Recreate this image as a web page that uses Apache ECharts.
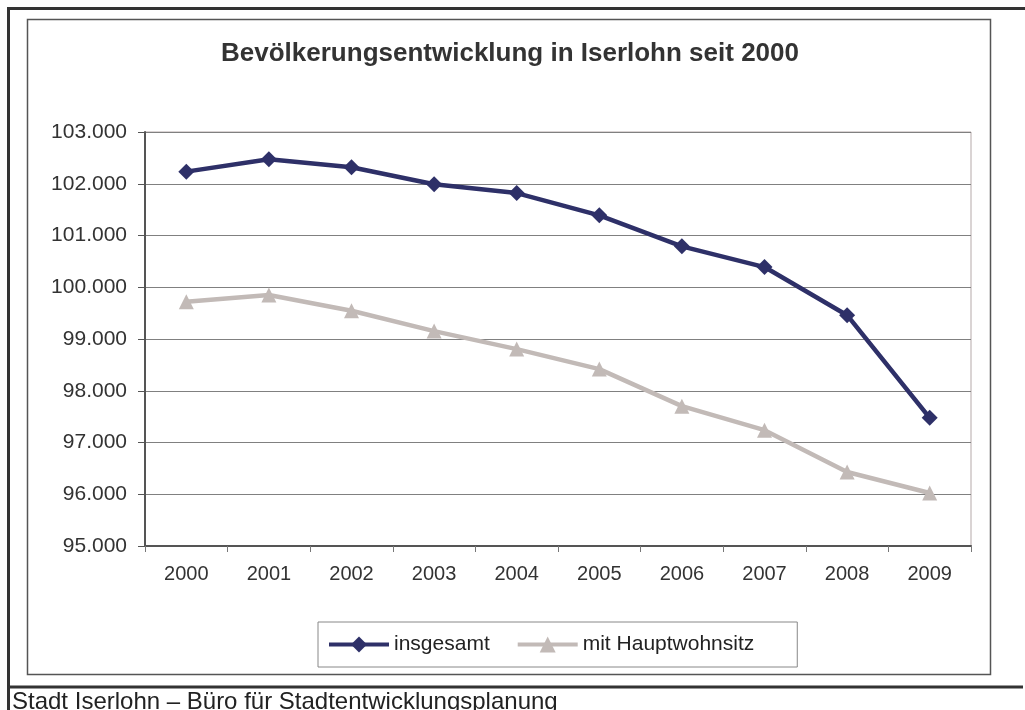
<!DOCTYPE html>
<html>
<head>
<meta charset="utf-8">
<script src="https://cdn.jsdelivr.net/npm/echarts@6/dist/echarts.min.js"></script>
<style>
  html, body { margin: 0; padding: 0; background: #fff; }
  #chart { width: 1025px; height: 710px; }
</style>
</head>
<body>
<div id="chart"></div>
<script>
// Werte
var jahre = ['2000', '2001', '2002', '2003', '2004', '2005', '2006', '2007', '2008', '2009'];
var insgesamt = [102234, 102474, 102319, 101990, 101820, 101390, 100790, 100390, 99460, 97476];
var hauptwohnsitz = [99720, 99849, 99545, 99153, 98805, 98418, 97702, 97238, 96431, 96025];
var yMin = 95000;
var yMax = 103000;
var yStep = 1000;

var titel = 'Bevölkerungsentwicklung in Iserlohn seit 2000';
var quelle = 'Stadt Iserlohn – Büro für Stadtentwicklungsplanung';

function tausender(v) {
  return String(v).replace(/\B(?=(\d{3})+(?!\d))/g, '.');
}

var font = 'Liberation Sans, Arial, Helvetica, sans-serif';
var chart = echarts.init(document.getElementById('chart'));

var option = {
  backgroundColor: '#fff',
  animation: false,
  textStyle: { fontFamily: font },
  title: {
    text: titel,
    left: 510,
    textAlign: 'center',
    top: 41,
    padding: 0,
    textStyle: { fontFamily: font, fontSize: 26, fontWeight: 'bold', color: '#333' }
  },
  grid: {
    left: 145,
    top: 132,
    width: 826,
    height: 414,
    show: true,
    borderColor: '#b5a9a9',
    borderWidth: 1
  },
  legend: {
    left: 318,
    top: 622,
    padding: [12, 43, 12, 9],
    itemWidth: 60,
    itemHeight: 20,
    itemGap: 26,
    borderColor: '#888',
    borderWidth: 1,
    backgroundColor: '#fff',
    lineStyle: { width: 4 },
    textStyle: { fontFamily: font, fontSize: 21, color: '#222' },
    data: ['insgesamt', 'mit Hauptwohnsitz']
  },
  xAxis: {
    type: 'category',
    data: jahre,
    boundaryGap: true,
    axisLine: { lineStyle: { color: '#555', width: 2 } },
    axisTick: { show: true, interval: 0, length: 6, lineStyle: { color: '#777', width: 1 } },
    axisLabel: { margin: 18, fontSize: 20, color: '#333', fontFamily: font }
  },
  yAxis: {
    type: 'value',
    min: yMin,
    max: yMax,
    interval: yStep,
    axisLine: { show: true, lineStyle: { color: '#555', width: 2 } },
    axisTick: { show: true, length: 7, lineStyle: { color: '#555', width: 1 } },
    axisLabel: {
      margin: 18, fontSize: 21, color: '#333', fontFamily: font,
      formatter: function (v) { return tausender(v); }
    },
    splitLine: { lineStyle: { color: '#808080', width: 1 } }
  },
  series: [
    {
      name: 'insgesamt',
      type: 'line',
      data: insgesamt,
      symbol: 'diamond',
      symbolSize: 16,
      showAllSymbol: true,
      lineStyle: { color: '#2e3068', width: 4.5 },
      itemStyle: { color: '#2e3068' },
      z: 3
    },
    {
      name: 'mit Hauptwohnsitz',
      type: 'line',
      data: hauptwohnsitz,
      symbol: 'triangle',
      symbolSize: 15,
      showAllSymbol: true,
      lineStyle: { color: '#c2bab7', width: 4.5 },
      itemStyle: { color: '#c2bab7' },
      z: 2
    }
  ],
  graphic: [
    // aeusserer Rahmen
    { type: 'line', shape: { x1: 8, y1: 8.5, x2: 1025, y2: 8.5 }, style: { stroke: '#333', lineWidth: 3 } },
    { type: 'line', shape: { x1: 8.5, y1: 7, x2: 8.5, y2: 710 }, style: { stroke: '#333', lineWidth: 3 } },
    { type: 'line', shape: { x1: 8, y1: 687, x2: 1023, y2: 687 }, style: { stroke: '#333', lineWidth: 3 } },
    // Diagrammrahmen
    { type: 'rect', shape: { x: 27.5, y: 19.5, width: 963, height: 655 }, style: { fill: null, stroke: '#555', lineWidth: 1.5 }, z: -1 },
    {
      type: 'text',
      left: 12,
      top: 690,
      style: { text: quelle, font: '24px ' + font, fill: '#222' }
    }
  ]
};

chart.setOption(option);
</script>
</body>
</html>
